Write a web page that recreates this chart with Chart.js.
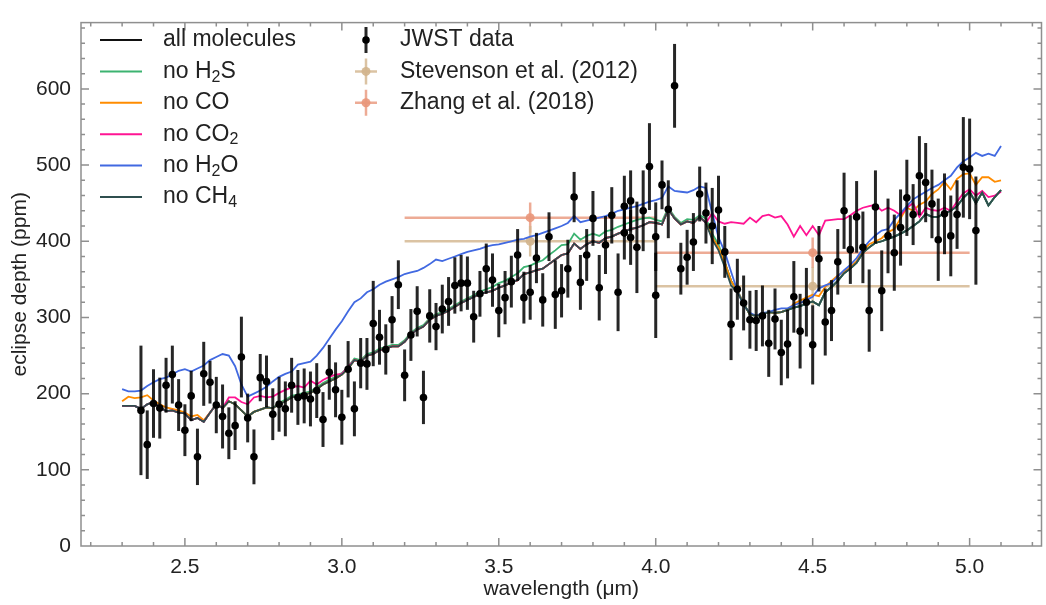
<!DOCTYPE html>
<html>
<head>
<meta charset="utf-8">
<script src="https://cdn.jsdelivr.net/npm/chart.js@4.4.1/dist/chart.umd.min.js"></script>
<style>
  html, body { margin: 0; padding: 0; background: #fff; }
</style>
</head>
<body>
<canvas id="chart" width="1046" height="605"></canvas>
<script>
// model wavelength grid (um)
var wave = [
  2.30, 2.32, 2.34, 2.36, 2.38, 2.40, 2.42, 2.44, 2.46, 2.48,
  2.50, 2.52, 2.54, 2.56, 2.58, 2.60, 2.62, 2.64, 2.66, 2.68,
  2.70, 2.72, 2.74, 2.76, 2.78, 2.80, 2.82, 2.84, 2.86, 2.88,
  2.90, 2.92, 2.94, 2.96, 2.98, 3.00, 3.02, 3.04, 3.06, 3.08,
  3.10, 3.12, 3.14, 3.16, 3.18, 3.20, 3.22, 3.24, 3.26, 3.28,
  3.30, 3.32, 3.34, 3.36, 3.38, 3.40, 3.42, 3.44, 3.46, 3.48,
  3.50, 3.52, 3.54, 3.56, 3.58, 3.60, 3.62, 3.64, 3.66, 3.68,
  3.70, 3.72, 3.74, 3.76, 3.78, 3.80, 3.82, 3.84, 3.86, 3.88,
  3.90, 3.92, 3.94, 3.96, 3.98, 4.00, 4.02, 4.04, 4.06, 4.08,
  4.10, 4.12, 4.14, 4.16, 4.18, 4.20, 4.22, 4.24, 4.26, 4.28,
  4.30, 4.32, 4.34, 4.36, 4.38, 4.40, 4.42, 4.44, 4.46, 4.48,
  4.50, 4.52, 4.54, 4.56, 4.58, 4.60, 4.62, 4.64, 4.66, 4.68,
  4.70, 4.72, 4.74, 4.76, 4.78, 4.80, 4.82, 4.84, 4.86, 4.88,
  4.90, 4.92, 4.94, 4.96, 4.98, 5.00, 5.02, 5.04, 5.06, 5.08,
  5.10
];

var allMolecules = [
  184, 184, 184, 180, 186, 189, 182, 177, 178, 175,
  174, 165, 168, 163, 175, 186, 181, 190, 186, 178,
  170, 176, 179, 182, 181, 186, 190, 195, 197, 199,
  201, 206, 212, 216, 220, 225, 233, 244, 242, 250,
  252, 257, 259, 262, 262, 268, 278, 284, 288, 297,
  302, 305, 309, 314, 319, 323, 327, 331, 333, 335,
  339, 342, 346, 349, 357, 359, 362, 364, 370, 376,
  382, 384, 397, 390, 396, 400, 398, 404, 406, 410,
  413, 416, 418, 421, 425, 424, 422, 442, 430, 422,
  426, 424, 432, 424, 405, 392, 372, 348, 335, 318,
  304, 302, 304, 307, 306, 307, 310, 313, 315, 318,
  321, 316, 333, 340, 348, 358, 364, 372, 385, 392,
  398, 400, 403, 406, 410, 414, 420, 426, 436, 432,
  432, 437, 440, 446, 457, 465, 450, 464, 447, 458,
  467
];

var noH2S = [
  184, 184, 184, 180, 186, 189, 182, 177, 178, 175,
  174, 165, 168, 163, 175, 186, 181, 190, 186, 178,
  170, 176, 179, 182, 181, 188, 192, 197, 199, 201,
  203, 208, 214, 218, 222, 227, 235, 246, 244, 252,
  254, 259, 261, 264, 264, 270, 280, 286, 290, 299,
  304, 307, 311, 316, 321, 325, 329, 334, 337, 340,
  345, 348, 353, 358, 366, 368, 372, 375, 382, 388,
  395, 396, 410, 402, 407, 410, 407, 413, 415, 419,
  422, 425, 428, 430, 431, 428, 426, 444, 432, 424,
  429, 428, 434, 430, 410, 396, 372, 348, 335, 318,
  304, 302, 304, 307, 306, 307, 310, 313, 315, 318,
  321, 316, 333, 340, 348, 358, 364, 372, 385, 392,
  398, 400, 403, 406, 410, 414, 420, 426, 436, 432,
  432, 437, 440, 446, 457, 465, 450, 464, 447, 458,
  467
];

var noCO = [
  190, 196, 194, 195, 198, 191, 186, 182, 180, 178,
  175, 170, 172, 165, 175, 186, 181, 190, 186, 178,
  170, 176, 179, 182, 181, 186, 190, 195, 197, 199,
  201, 206, 212, 216, 220, 225, 233, 244, 242, 250,
  252, 257, 259, 262, 262, 268, 278, 284, 288, 297,
  302, 305, 309, 314, 319, 323, 327, 331, 333, 335,
  339, 342, 346, 349, 357, 359, 362, 364, 370, 376,
  382, 384, 397, 390, 396, 400, 398, 404, 406, 410,
  413, 416, 418, 421, 425, 424, 422, 442, 430, 422,
  426, 424, 432, 424, 405, 392, 372, 348, 335, 318,
  304, 302, 304, 307, 306, 307, 310, 318, 322, 326,
  330, 328, 340, 348, 355, 360, 366, 374, 388, 396,
  400, 404, 412, 416, 430, 444, 440, 448, 452, 462,
  468, 478, 468, 482, 488, 489, 474, 484, 484, 478,
  480
];

var noCO2 = [
  184, 184, 184, 180, 186, 189, 182, 177, 178, 175,
  174, 165, 168, 163, 175, 186, 181, 195, 195, 189,
  186, 195, 197, 195, 196, 201, 205, 208, 210, 208,
  217, 212, 218, 222, 225, 226, 235, 244, 242, 250,
  252, 257, 259, 262, 262, 268, 278, 284, 288, 297,
  302, 305, 309, 314, 319, 323, 327, 331, 333, 335,
  339, 342, 346, 349, 357, 359, 362, 364, 370, 376,
  382, 384, 397, 390, 396, 400, 398, 404, 406, 410,
  413, 416, 418, 421, 425, 424, 422, 442, 430, 422,
  426, 424, 432, 424, 437, 426, 423, 425, 424, 423,
  431, 425, 433, 435, 431, 433, 422, 406, 420, 408,
  420, 408, 427, 428, 429, 429, 434, 440, 444, 446,
  448, 440, 444, 440, 434, 444, 450, 432, 444, 441,
  440, 444, 440, 452, 463, 468, 460, 466, 458, 460,
  465
];

var noH2O = [
  206, 203, 203, 204, 210, 215, 219, 221, 225, 230,
  232, 229, 233, 237, 244, 248, 252, 250, 236, 212,
  196, 200, 204, 209, 216, 222, 226, 229, 238, 240,
  242, 250, 260, 272, 284, 295, 308, 320, 325, 333,
  337, 343, 347, 350, 353, 357, 359, 361, 365, 370,
  376, 374, 377, 380, 383, 386, 388, 390, 393, 395,
  396, 398, 400, 402, 403, 406, 408, 411, 414, 417,
  420, 424, 433, 425, 427, 429, 431, 433, 436, 440,
  442, 444, 446, 449, 452, 454, 457, 472, 466, 465,
  464, 467, 472, 470, 437, 405, 386, 360, 335, 316,
  306, 302, 306, 307, 310, 312, 312, 316, 319, 323,
  327, 338, 342, 345, 354, 362, 369, 378, 390, 400,
  408, 414, 416, 428, 437, 446, 455, 460, 465, 470,
  474, 480, 486, 497, 505, 510, 516, 512, 515, 512,
  525
];

var noCH4 = [
  184, 184, 184, 180, 186, 189, 182, 177, 178, 175,
  174, 165, 168, 163, 175, 186, 181, 190, 186, 178,
  170, 176, 179, 182, 181, 186, 190, 195, 197, 199,
  201, 206, 212, 216, 220, 225, 233, 244, 242, 250,
  252, 257, 259, 262, 262, 268, 278, 284, 288, 297,
  302, 305, 309, 314, 319, 323, 327, 331, 333, 335,
  339, 342, 346, 349, 357, 359, 362, 364, 370, 376,
  382, 384, 397, 390, 396, 400, 398, 404, 406, 410,
  413, 416, 418, 421, 425, 424, 422, 442, 430, 422,
  426, 424, 432, 424, 402, 388, 366, 342, 333, 318,
  304, 302, 304, 307, 306, 307, 310, 313, 315, 318,
  321, 316, 333, 340, 348, 358, 364, 372, 385, 392,
  398, 400, 403, 406, 410, 414, 420, 426, 436, 432,
  432, 437, 440, 446, 457, 465, 450, 464, 447, 458,
  467
];

// JWST eclipse depths (ppm) with 1-sigma errors
var jwstWave = [
  2.36, 2.38, 2.40, 2.42, 2.44, 2.46, 2.48, 2.50, 2.52, 2.54,
  2.56, 2.58, 2.60, 2.62, 2.64, 2.66, 2.68, 2.70, 2.72, 2.74,
  2.76, 2.78, 2.80, 2.82, 2.84, 2.86, 2.88, 2.90, 2.92, 2.94,
  2.96, 2.98, 3.00, 3.02, 3.04, 3.06, 3.08, 3.10, 3.12, 3.14,
  3.16, 3.18, 3.20, 3.22, 3.24, 3.26, 3.28, 3.30, 3.32, 3.34,
  3.36, 3.38, 3.40, 3.42, 3.44, 3.46, 3.48, 3.50, 3.52, 3.54,
  3.56, 3.58, 3.60, 3.62, 3.64, 3.66, 3.68, 3.70, 3.72, 3.74,
  3.76, 3.78, 3.80, 3.82, 3.84, 3.86, 3.88, 3.90, 3.90, 3.92,
  3.92, 3.94, 3.96, 3.98, 4.00, 4.00, 4.02, 4.04, 4.06, 4.08,
  4.10, 4.12, 4.14, 4.16, 4.18, 4.20, 4.22, 4.24, 4.26, 4.28,
  4.30, 4.32, 4.34, 4.36, 4.38, 4.40, 4.42, 4.44, 4.46, 4.48,
  4.50, 4.52, 4.54, 4.56, 4.58, 4.60, 4.62, 4.64, 4.66, 4.68,
  4.70, 4.72, 4.74, 4.76, 4.78, 4.80, 4.82, 4.84, 4.86, 4.88,
  4.90, 4.92, 4.94, 4.96, 4.98, 5.00, 5.02
];
var jwstDepth = [
  178, 133, 187, 181, 211, 225, 185, 152, 197, 117,
  226, 215, 185, 170, 148, 158, 248, 168, 117, 221,
  216, 173, 186, 180, 211, 195, 197, 193, 204, 166,
  228, 205, 169, 232, 180, 240, 239, 292, 274, 258,
  297, 343, 224, 277, 308, 195, 302, 288, 311, 321,
  342, 345, 345, 301, 331, 364, 349, 309, 326, 347,
  382, 326, 333, 378, 323, 406, 330, 335, 364, 458,
  346, 382, 430, 339, 395, 434, 333, 446, 411, 453,
  405, 392, 440, 498, 406, 329, 474, 442, 604, 364,
  379, 399, 462, 437, 420, 441, 386, 291, 337, 319,
  297, 296, 302, 266, 298, 254, 265, 327, 282, 320,
  264, 377, 294, 309, 373, 440, 389, 432, 392, 309,
  445, 335, 407, 385, 418, 457, 435, 486, 477, 449,
  402, 436, 407, 435, 497, 495, 414
];
var jwstErr = [
  85, 45, 45, 40, 36, 38, 34, 34, 33, 37,
  42, 28, 37, 42, 34, 32, 53, 32, 36, 31,
  34, 34, 36, 36, 36, 36, 36, 36, 36, 36,
  36, 36, 36, 37, 36, 33, 34, 56, 36, 33,
  31, 32, 34, 34, 33, 35, 35, 31, 32, 32,
  37, 37, 35, 34, 30, 33, 35, 35, 35, 34,
  34, 34, 36, 33, 35, 32, 45, 35, 38, 33,
  36, 34, 36, 43, 38, 37, 51, 40, 35, 40,
  36, 60, 53, 57, 45, 56, 32, 38, 55, 34,
  36, 38, 36, 40, 50, 45, 34, 47, 40, 36,
  38, 40, 40, 44, 40, 43, 45, 47, 49, 45,
  52, 43, 44, 40, 43, 50, 45, 47, 47, 54,
  48, 53, 49, 50, 50, 50, 40, 52, 52, 45,
  54, 53, 53, 45, 66, 66, 71
];

// earlier photometry (Spitzer channels)
var litWave = [3.6, 4.5];
var litBand = [0.4, 0.5];
var stevensonDepth = [400, 341];
var stevensonErr = [20, 25];
var zhangDepth = [431, 385];
var zhangErr = [20, 20];

var modelLabels = ['all molecules', 'no H\u2082S', 'no CO', 'no CO\u2082', 'no H\u2082O', 'no CH\u2084'];
var modelColors = ['#111111', '#3cb371', '#ff8c00', '#ff1493', '#4169e1', '#2f4f4f'];
var pointLabels = ['JWST data', 'Stevenson et al. (2012)', 'Zhang et al. (2018)'];
var pointColors = ['#000000', '#d2b48c', '#e9967a'];

var FONT = '"Liberation Sans", Arial, Helvetica, sans-serif';

function pts(xs, ys) {
  return xs.map(function(x, i) { return {x: x, y: ys[i]}; });
}

function alpha(hex, a) {
  var r = parseInt(hex.substr(1, 2), 16), g = parseInt(hex.substr(3, 2), 16), b = parseInt(hex.substr(5, 2), 16);
  return 'rgba(' + r + ',' + g + ',' + b + ',' + a + ')';
}

// draw text, rendering unicode subscript digits smaller and lowered
function drawRich(ctx, text, x, y, size) {
  var subs = '\u2080\u2081\u2082\u2083\u2084\u2085\u2086\u2087\u2088\u2089';
  var cx = x, run = '';
  function flush() {
    if (!run) return;
    ctx.font = size + 'px ' + FONT;
    ctx.fillText(run, cx, y);
    cx += ctx.measureText(run).width;
    run = '';
  }
  for (var i = 0; i < text.length; i++) {
    var k = subs.indexOf(text[i]);
    if (k >= 0) {
      flush();
      var s = Math.round(size * 0.7);
      ctx.font = s + 'px ' + FONT;
      ctx.fillText(String(k), cx, y + size * 0.25);
      cx += ctx.measureText(String(k)).width;
    } else {
      run += text[i];
    }
  }
  flush();
}

var models = [allMolecules, noH2S, noCO, noCO2, noH2O, noCH4];
var datasets = [];

datasets.push({
  label: pointLabels[0],
  data: pts(jwstWave, jwstDepth),
  yErr: jwstErr,
  errColor: 'rgba(0,0,0,0.85)',
  errWidth: 3,
  backgroundColor: '#000',
  borderColor: '#000',
  pointRadius: 3.8,
  pointBorderWidth: 0,
  order: 0
});

models.forEach(function(m, i) {
  datasets.push({
    label: modelLabels[i],
    data: pts(wave, m),
    showLine: true,
    borderColor: modelColors[i],
    borderWidth: 1.8,
    pointRadius: 0,
    tension: 0,
    order: 2 + (models.length - i)
  });
});

datasets.push({
  label: pointLabels[1],
  data: pts(litWave, stevensonDepth),
  yErr: stevensonErr,
  xErr: litBand,
  errColor: alpha(pointColors[1], 0.8),
  errWidth: 2.5,
  backgroundColor: alpha(pointColors[1], 0.9),
  pointRadius: 4.5,
  pointBorderWidth: 0,
  order: 20
});
datasets.push({
  label: pointLabels[2],
  data: pts(litWave, zhangDepth),
  yErr: zhangErr,
  xErr: litBand,
  errColor: alpha(pointColors[2], 0.8),
  errWidth: 2.5,
  backgroundColor: alpha(pointColors[2], 0.9),
  pointRadius: 4.5,
  pointBorderWidth: 0,
  order: 21
});

var errorBars = {
  id: 'errorBars',
  beforeDatasetDraw: function(chart, args) {
    var ds = chart.data.datasets[args.index];
    if (!ds.yErr) return;
    var ctx = chart.ctx, xs = chart.scales.x, ys = chart.scales.y;
    ctx.save();
    ctx.strokeStyle = ds.errColor;
    ctx.lineWidth = ds.errWidth;
    ctx.lineCap = 'butt';
    ds.data.forEach(function(p, i) {
      var px = xs.getPixelForValue(p.x), py = ys.getPixelForValue(p.y);
      ctx.beginPath();
      ctx.moveTo(px, ys.getPixelForValue(p.y - ds.yErr[i]));
      ctx.lineTo(px, ys.getPixelForValue(p.y + ds.yErr[i]));
      if (ds.xErr) {
        ctx.moveTo(xs.getPixelForValue(p.x - ds.xErr[i]), py);
        ctx.lineTo(xs.getPixelForValue(p.x + ds.xErr[i]), py);
      }
      ctx.stroke();
    });
    ctx.restore();
  }
};

var frame = {
  id: 'frame',
  afterDraw: function(chart) {
    var ctx = chart.ctx, a = chart.chartArea, xs = chart.scales.x, ys = chart.scales.y;
    ctx.save();
    ctx.strokeStyle = '#8f8f8f';
    ctx.lineWidth = 1.5;
    ctx.strokeRect(a.left, a.top, a.right - a.left, a.bottom - a.top);
    ctx.beginPath();
    for (var k = 22; k <= 52; k++) {
      var px = xs.getPixelForValue(k / 10);
      if (px <= a.left || px >= a.right) continue;
      var len = (k % 5 === 0) ? 8 : 4;
      ctx.moveTo(px, a.bottom); ctx.lineTo(px, a.bottom - len);
      ctx.moveTo(px, a.top); ctx.lineTo(px, a.top + len);
    }
    for (var v = 0; v <= 680; v += 20) {
      var py = ys.getPixelForValue(v);
      if (py <= a.top || py >= a.bottom) continue;
      var l2 = (v % 100 === 0) ? 8 : 4;
      ctx.moveTo(a.left, py); ctx.lineTo(a.left + l2, py);
      ctx.moveTo(a.right, py); ctx.lineTo(a.right - l2, py);
    }
    ctx.stroke();

    // legend
    var size = 23, rowH = 31.4, y0 = 40;
    ctx.fillStyle = '#222';
    ctx.textBaseline = 'middle';
    ctx.textAlign = 'left';
    modelLabels.forEach(function(lab, i) {
      var y = y0 + i * rowH;
      ctx.strokeStyle = modelColors[i];
      ctx.lineWidth = 2;
      ctx.beginPath(); ctx.moveTo(100, y); ctx.lineTo(142, y); ctx.stroke();
      drawRich(ctx, lab, 163, y, size);
    });
    pointLabels.forEach(function(lab, i) {
      var y = y0 + i * rowH, mx = 366;
      var c = i === 0 ? 'rgba(0,0,0,0.85)' : alpha(pointColors[i], 0.8);
      ctx.strokeStyle = c;
      ctx.lineWidth = i === 0 ? 3 : 2.5;
      ctx.beginPath();
      ctx.moveTo(mx, y - 13); ctx.lineTo(mx, y + 13);
      if (i > 0) { ctx.moveTo(mx - 11, y); ctx.lineTo(mx + 11, y); }
      ctx.stroke();
      ctx.fillStyle = i === 0 ? '#000' : alpha(pointColors[i], 0.9);
      ctx.beginPath(); ctx.arc(mx, y, i === 0 ? 3.8 : 4.5, 0, Math.PI * 2); ctx.fill();
      ctx.fillStyle = '#222';
      drawRich(ctx, lab, 400, y, size);
    });
    ctx.restore();
  }
};

new Chart(document.getElementById('chart'), {
  type: 'scatter',
  data: { datasets: datasets },
  options: {
    responsive: false,
    animation: false,
    devicePixelRatio: 1,
    layout: { padding: { top: 9, right: 3, left: 0, bottom: 0 } },
    plugins: { legend: { display: false }, tooltip: { enabled: false } },
    scales: {
      x: {
        type: 'linear',
        min: 2.169,
        max: 5.229,
        grid: { display: false, drawTicks: false, tickLength: 0 },
        border: { display: false },
        ticks: {
          stepSize: 0.5,
          includeBounds: false,
          padding: 9,
          color: '#222',
          font: { family: FONT, size: 21 },
          callback: function(v) { return v.toFixed(1); }
        },
        title: {
          display: true,
          text: 'wavelength (\u03bcm)',
          color: '#222',
          padding: { top: 0, bottom: 3 },
          font: { family: FONT, size: 21 }
        },
        afterFit: function(s) { s.height = 59; }
      },
      y: {
        min: 0,
        max: 687,
        grid: { display: false, drawTicks: false, tickLength: 0 },
        border: { display: false },
        ticks: {
          stepSize: 100,
          includeBounds: false,
          padding: 10,
          color: '#222',
          font: { family: FONT, size: 21 }
        },
        title: {
          display: true,
          text: 'eclipse depth (ppm)',
          color: '#222',
          padding: { top: 8, bottom: 0 },
          font: { family: FONT, size: 21 }
        },
        afterFit: function(s) { s.width = 81; }
      }
    }
  },
  plugins: [errorBars, frame]
});
</script>
</body>
</html>
